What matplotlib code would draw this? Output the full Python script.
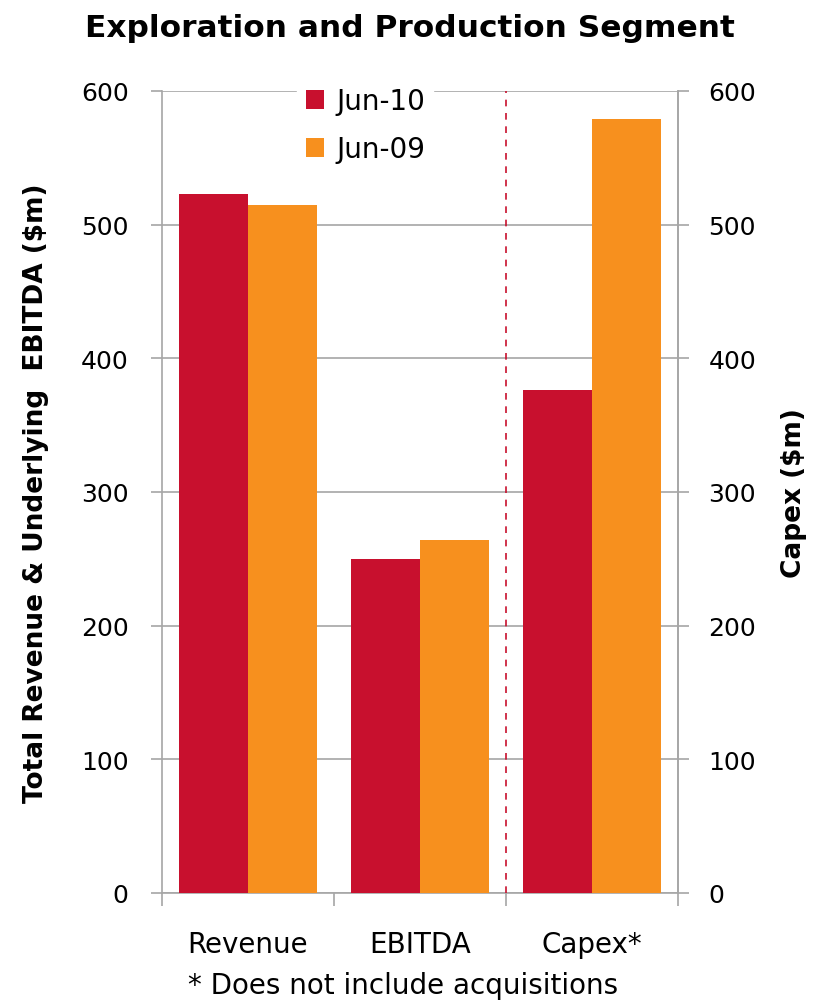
import matplotlib.pyplot as plt
import numpy as np

categories = ['Revenue', 'EBITDA', 'Capex*']
jun10 = [523, 250, 376]
jun09 = [515, 264, 579]
series_names = ['Jun-10', 'Jun-09']

RED = '#C8102E'
ORANGE = '#F7901E'
GRID = '#A6A6A6'

plt.rcParams['font.family'] = ['DejaVu Sans']

fig = plt.figure(figsize=(8.19, 10.04), dpi=100)
ax = fig.add_axes([0.1978, 0.1096, 0.63, 0.7988])

x = np.arange(len(categories))
w = 0.4
ax.bar(x - w / 2, jun10, w, color=RED, label=series_names[0], zorder=3)
ax.bar(x + w / 2, jun09, w, color=ORANGE, label=series_names[1], zorder=3)

ax.set_xlim(-0.5, 2.5)
ax.set_ylim(0, 600)
ax.set_yticks(range(0, 601, 100))
ax.yaxis.grid(True, color=GRID, linewidth=1.2, zorder=0)
ax.set_axisbelow(True)

# category boundary ticks
ax.set_xticks([-0.5, 0.5, 1.5, 2.5])
ax.set_xticklabels([])
ax.set_xticks(x, minor=True)
ax.set_xticklabels(categories, minor=True, fontsize=20)
ax.tick_params(axis='x', which='minor', length=0, pad=27)
ax.tick_params(axis='x', which='major', length=9, color=GRID, width=1.2)
ax.tick_params(axis='y', length=8, color=GRID, width=1.2, labelsize=18, pad=16)

ax.spines['top'].set_visible(False)
for side in ['left', 'right', 'bottom']:
    ax.spines[side].set_color(GRID)
    ax.spines[side].set_linewidth(1.2)

# dashed separator between EBITDA and Capex
ax.axvline(1.5, color=RED, linestyle=(0, (4, 4)), linewidth=1.2, zorder=4)

ax2 = ax.twinx()
ax2.set_ylim(0, 600)
ax2.set_yticks(range(0, 601, 100))
ax2.tick_params(axis='y', length=8, color=GRID, width=1.2, labelsize=18, pad=14)
for side in ['top', 'left', 'bottom']:
    ax2.spines[side].set_visible(False)
ax2.spines['right'].set_color(GRID)
ax2.spines['right'].set_linewidth(1.2)

ax.set_ylabel('Total Revenue & Underlying  EBITDA ($m)', fontsize=19,
              fontweight='bold', labelpad=23)
ax2.set_ylabel('Capex ($m)', fontsize=19, fontweight='bold', labelpad=18)

leg = ax.legend(loc='upper left', bbox_to_anchor=(0.262, 1.015), borderaxespad=0,
                frameon=True, fontsize=20, handlelength=0.65, handleheight=0.65,
                labelspacing=0.72, borderpad=0.3, handletextpad=0.45)
leg.get_frame().set_edgecolor('white')
leg.get_frame().set_facecolor('white')
leg.get_frame().set_alpha(1)
leg.get_frame().set_boxstyle('square', pad=0)
leg.set_zorder(5)

fig.text(0.5, 0.972, 'Exploration and Production Segment', ha='center',
         va='center', fontsize=22.5, fontweight='bold')
fig.text(0.492, 0.018, '* Does not include acquisitions', ha='center',
         va='center', fontsize=20)

fig.savefig('out.png', dpi=100)
